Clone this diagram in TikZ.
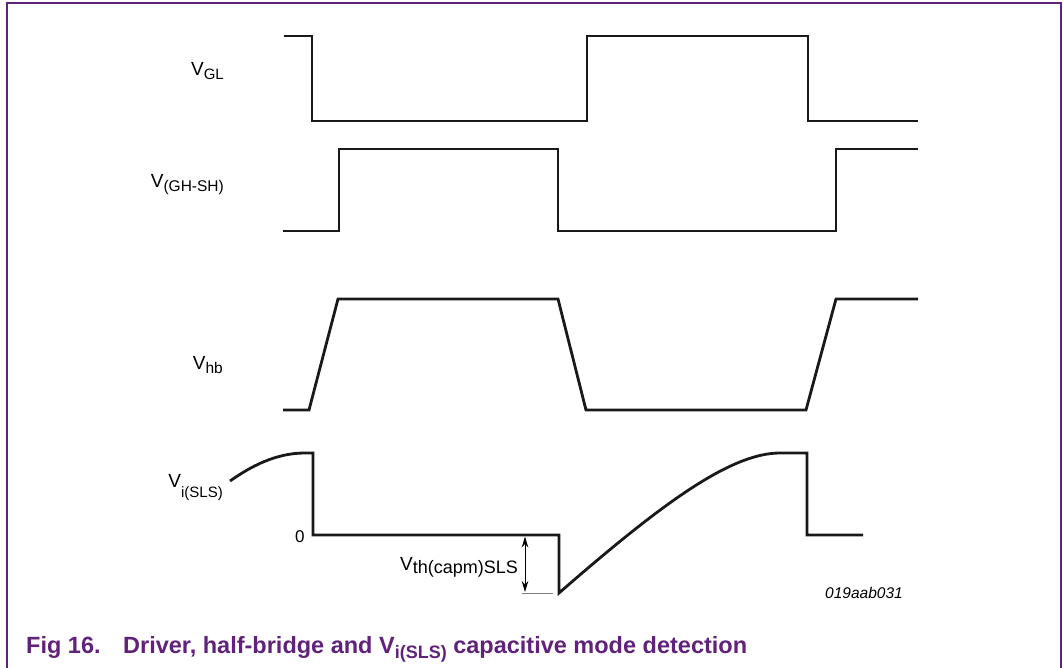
\documentclass[tikz,border=0pt]{standalone}
\usepackage{fontspec}
\setmainfont{Liberation Sans}
\usetikzlibrary{arrows.meta}
\definecolor{nxppurple}{RGB}{96,34,122}
\newcommand{\sgl}[3]{V\raisebox{-#2}{\fontsize{#3}{#3}\selectfont #1}}
\tikzset{
  wave/.style={line width=2.8pt, black!90},
  frameline/.style={line width=1.6pt, nxppurple},
  lbl/.style={anchor=base east, inner sep=0pt, font=\fontsize{19}{19}\selectfont},
  lblw/.style={anchor=base west, inner sep=0pt, font=\fontsize{19}{19}\selectfont},
  caption/.style={anchor=base west, inner sep=0pt, text=nxppurple, font=\fontsize{23.5}{24}\selectfont\bfseries},
  dimarrow/.style={{Stealth[length=11pt,width=6.5pt]}-{Stealth[length=11pt,width=6.5pt]}, line width=0.9pt},
}
\begin{document}
\begin{tikzpicture}[x=1pt,y=-1pt]
\useasboundingbox (0,0) rectangle (1063,668);
% frame
\draw[frameline] (7,668) -- (7,3) -- (1061,3) -- (1061,668);
% V_GL
\draw[wave] (284,36) -- (312,36) -- (312,121) -- (587,121) -- (587,36) -- (808,36) -- (808,121) -- (918,121);
% V_(GH-SH)
\draw[wave] (283,231) -- (339,231) -- (339,149) -- (558,149) -- (558,231) -- (836,231) -- (836,149) -- (918,149);
% V_hb
\draw[wave] (283,410) -- (309,410) -- (338,299) -- (558,299) -- (586,410) -- (806,410) -- (836,299) -- (918,299);
% V_i(SLS)
\draw[wave] (230,481) .. controls (250,467) and (275,453) .. (305,453) -- (313,453) -- (313,535) -- (559,535) -- (559,593)
  .. controls (660,505) and (730,453) .. (780,453) -- (807,453) -- (807,535) -- (863,535);
% dimension
\draw[gray, line width=0.8pt] (522,593) -- (553,593);
\draw[dimarrow] (525,536.5) -- (525,592);
% labels
\node[lbl] (lgl) at (224,76) {\sgl{GL}{4pt}{15}};
\node[lbl] (lgh) at (224,188) {\sgl{(GH-SH)}{4pt}{15.5}};
\node[lbl] (lhb) at (223,369) {\sgl{hb}{4pt}{15.5}};
\node[lbl] (lsls) at (223,487) {\sgl{i(SLS)}{10pt}{15}};
\node[lblw, font=\fontsize{17}{17}\selectfont] (lzero) at (295,542) {0};
\node[lbl] (lth) at (518,570) {\sgl{th(capm)SLS}{3pt}{18}};
\node[lblw, font=\fontsize{15.5}{16}\selectfont\itshape] (lid) at (825,598) {019aab031};
% caption
\node[caption] (cap1) at (26,653) {Fig 16.};
\node[caption] (cap2) at (123,653) {Driver, half-bridge and \sgl{i(SLS)}{5pt}{18} capacitive mode detection};
\end{tikzpicture}
\end{document}
